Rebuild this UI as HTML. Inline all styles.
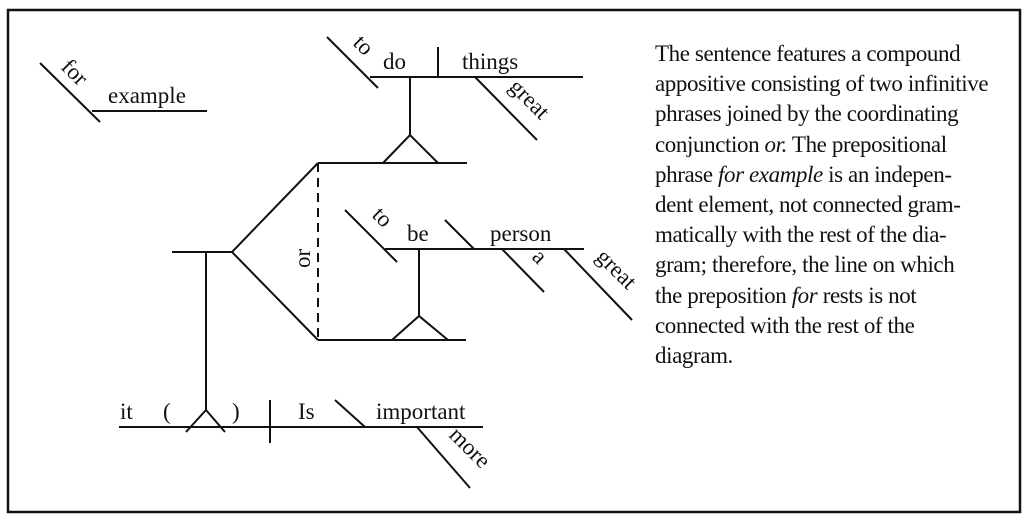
<!DOCTYPE html>
<html><head><style>
body{margin:0;background:#fff;width:1027px;height:524px;overflow:hidden}
svg{position:absolute;left:0;top:0}
.t{font-family:"Liberation Serif",serif;font-size:23px;fill:#111}
#p{position:absolute;left:655px;top:39px;width:370px;font-family:"Liberation Serif",serif;font-size:23px;line-height:30.2px;color:#111;letter-spacing:-0.4px;white-space:nowrap}
</style></head><body>
<svg width="1027" height="524" stroke="#111" stroke-width="2" fill="none">
<rect x="8" y="10" width="1012" height="502" stroke-width="2.5"/>
<line x1="40" y1="63" x2="100" y2="122"/><line x1="92" y1="111" x2="207" y2="111"/>
<line x1="327" y1="37" x2="378" y2="88"/><line x1="370" y1="77" x2="583" y2="77"/>
<line x1="438" y1="47" x2="438" y2="77"/><line x1="475" y1="77" x2="537" y2="140"/>
<line x1="410" y1="77" x2="410" y2="135"/><polyline points="383,163 410,135 438,163"/>
<line x1="318" y1="163" x2="467" y2="163"/>
<line x1="172" y1="252" x2="232" y2="252"/><polyline points="318,163 232,252 318,340"/>
<line x1="318" y1="163" x2="318" y2="340" stroke-dasharray="9,6"/>
<line x1="206" y1="252" x2="206" y2="410"/><polyline points="186,432 206,410 225,432"/>
<line x1="345" y1="210" x2="397" y2="262"/><line x1="385" y1="249" x2="584" y2="249"/>
<line x1="445" y1="220" x2="474" y2="249"/><line x1="502" y1="249" x2="544" y2="292"/>
<line x1="564" y1="249" x2="632" y2="320"/>
<line x1="419" y1="249" x2="419" y2="316"/><polyline points="392,340 419,316 448,340"/>
<line x1="318" y1="340" x2="466" y2="340"/>
<line x1="119" y1="427" x2="483" y2="427"/><line x1="270" y1="400" x2="270" y2="443"/>
<line x1="335" y1="400" x2="365" y2="427"/><line x1="417" y1="427" x2="470" y2="488"/>
<g stroke="none">
<text class="t" transform="translate(60,68) rotate(45)">for</text>
<text class="t" x="108" y="103">example</text>
<text class="t" transform="translate(352,44) rotate(45)">to</text>
<text class="t" x="383" y="69">do</text>
<text class="t" x="462" y="69">things</text>
<text class="t" transform="translate(508,88) rotate(45)">great</text>
<text class="t" transform="translate(310,268) rotate(-90)">or</text>
<text class="t" transform="translate(371,216) rotate(45)">to</text>
<text class="t" x="407" y="241">be</text>
<text class="t" x="490" y="241">person</text>
<text class="t" transform="translate(531,258) rotate(45)">a</text>
<text class="t" transform="translate(595,258) rotate(45)">great</text>
<text class="t" x="120" y="419">it</text>
<text class="t" x="163" y="419">(</text>
<text class="t" x="232" y="419">)</text>
<text class="t" x="298" y="419">Is</text>
<text class="t" x="376" y="419">important</text>
<text class="t" transform="translate(448,436) rotate(45)">more</text>
</g>
</svg>
<div id="p">The sentence features a compound<br>appositive consisting of two infinitive<br>phrases joined by the coordinating<br>conjunction <i>or.</i> The prepositional<br>phrase <i>for example</i> is an indepen-<br>dent element, not connected gram-<br>matically with the rest of the dia-<br>gram; therefore, the line on which<br>the preposition <i>for</i> rests is not<br>connected with the rest of the<br>diagram.</div>
</body></html>
